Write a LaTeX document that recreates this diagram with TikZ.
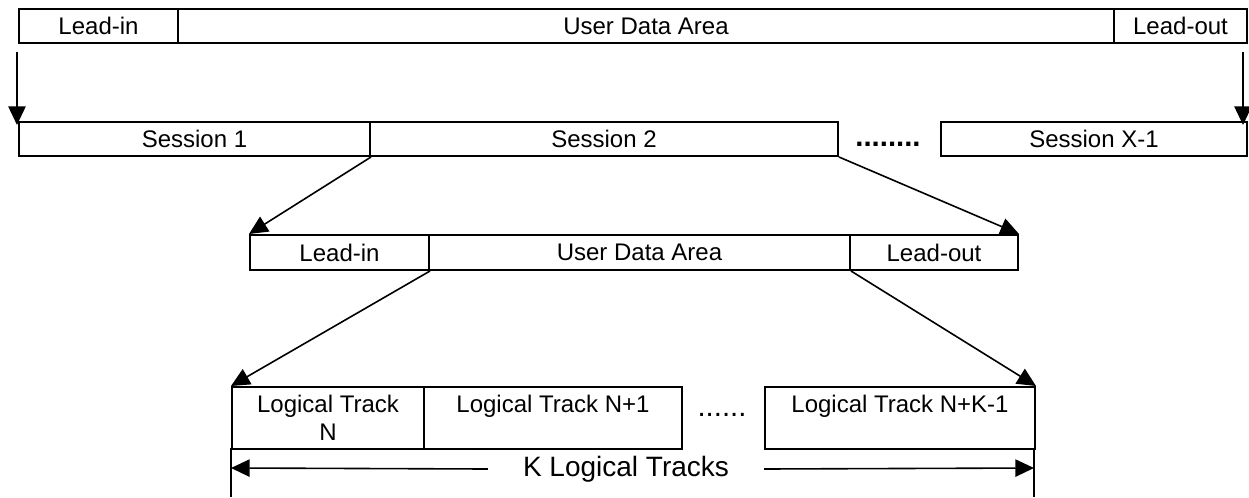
\documentclass[tikz,border=0pt]{standalone}
\usepackage{fontspec}
\setmainfont{Liberation Sans}
\usetikzlibrary{arrows.meta}

\tikzset{every picture/.style={line width=0.75pt}}

\begin{document}
\begin{tikzpicture}[x=0.75pt,y=0.75pt,yscale=-1,xscale=1,
  font=\fontsize{18}{21}\selectfont,
  cell/.style={draw, line width=1.5, inner sep=0pt, anchor=north west, align=center, minimum height=25.5pt},
  tall/.style={cell, minimum height=46.5pt},
  link/.style={line width=1.2, -{Triangle[length=14pt,width=13pt]}}]
%set diagram left start at 0, and has height of 497
\useasboundingbox (0,0) rectangle (1249,497);

%Row: whole disc
\node [cell, minimum width=119.25pt] (leadinA) at (18,8) {Lead-in};
\node [cell, minimum width=702pt] (udaA) at (177,8) {User Data Area};
\node [cell, minimum width=99.75pt] (leadoutA) at (1113,8) {Lead-out};

%Row: sessions
\node [cell, minimum width=263.25pt] (sessA) at (18,121) {Session 1};
\node [cell, minimum width=351pt] (sessB) at (369,121) {Session 2};
\node [anchor=base, inner sep=0pt, font=\fontsize{22}{24}\selectfont] (sessdots) at (888,146) {\textbf{........}};
\node [cell, minimum width=229.5pt] (sessX) at (940,121) {Session X-1};

%Row: one session
\node [cell, minimum width=134.25pt, minimum height=26.25pt] (leadinB) at (249,234) {Lead-in};
\node [cell, minimum width=315.75pt, minimum height=26.25pt] (udaB) at (428,234) {User Data Area};
\node [cell, minimum width=126pt, minimum height=26.25pt] (leadoutB) at (849,234) {Lead-out};

%Row: logical tracks
\node [tall, minimum width=144pt] (trackA) at (231,386) {Logical Track\\N};
\node [tall, minimum width=193.5pt] (trackB) at (423,386) {Logical Track N+1\\\mbox{}};
\node [anchor=base, inner sep=0pt, font=\fontsize{22}{24}\selectfont] (trackdots) at (722,416) {......};
\node [tall, minimum width=202.5pt] (trackK) at (764,386) {Logical Track N+K-1\\\mbox{}};

%Dimension: K tracks
\coordinate (kleft) at (231,468);
\coordinate (kright) at (1034,468);
\draw [line width=1.2] (231,448) -- (231,497);
\draw [line width=1.2] (1034,448) -- (1034,497);
\node [inner xsep=26pt, inner ysep=0pt, font=\fontsize{21}{24}\selectfont] (ktracks) at (626,469) {K Logical Tracks};

%Connectors
\coordinate (topL) at (17,52);
\coordinate (topR) at (1243,52);
\coordinate (endL) at (17,125);
\coordinate (endR) at (1243,125);
\draw [link] (topL) -- (endL);
\draw [link] (topR) -- (endR);
\draw [link] (sessA.south east) -- (leadinB.north west);
\draw [link] (sessB.south east) -- (leadoutB.north east);
\draw [link] (leadinB.south east) -- (trackA.north west);
\draw [link] (udaB.south east) -- (trackK.north east);
\draw [link] (ktracks.west) -- (kleft);
\draw [link] (ktracks.east) -- (kright);

\end{tikzpicture}
\end{document}
